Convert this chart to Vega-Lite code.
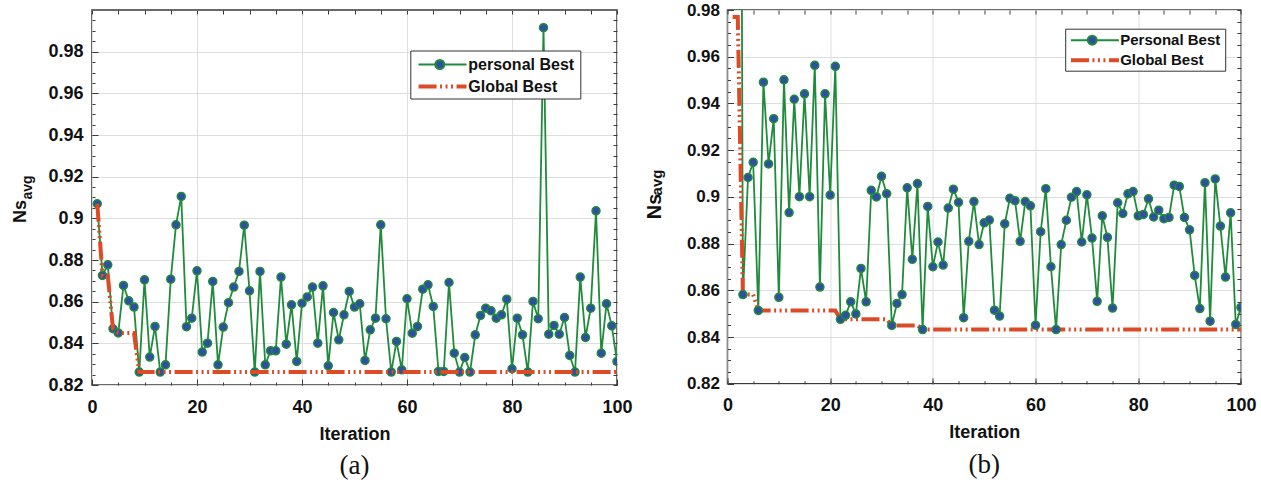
{
  "$schema": "https://vega.github.io/schema/vega-lite/v6.json",
  "background": "white",
  "padding": {"left": 10, "top": 0, "right": 5, "bottom": 2},
  "columns": 2,
  "align": "none",
  "spacing": 9.5,
  "resolve": {"scale": {"x": "independent", "y": "independent", "color": "independent", "strokeDash": "independent"}, "legend": {"color": "independent", "strokeDash": "independent"}},
  "config": {
    "view": {"stroke": "#3a3a3a", "strokeWidth": 1.5},
    "axis": {"labelFont": "Liberation Sans", "labelFontWeight": "bold", "labelColor": "#111111", "titleFont": "Liberation Sans", "titleFontWeight": "bold", "titleColor": "#111111", "tickColor": "#3a3a3a", "tickWidth": 1, "gridColor": "#dedede", "gridWidth": 1, "domain": false, "labelFontSize": 18, "titleFontSize": 18},
    "legend": {"labelFont": "Liberation Sans", "labelFontSize": 16, "labelFontWeight": "bold", "labelColor": "#111111", "titleFont": "Liberation Sans", "symbolSize": 100, "labelOffset": 36}
  },
  "datasets": {
    "a": [
      {"it":1,"pb":0.907,"gb":0.907},{"it":2,"pb":0.8726,"gb":0.8726},{"it":3,"pb":0.8777,"gb":0.8726},{"it":4,"pb":0.847,"gb":0.847},{"it":5,"pb":0.845,"gb":0.845},
      {"it":6,"pb":0.8678,"gb":0.845},{"it":7,"pb":0.8604,"gb":0.845},{"it":8,"pb":0.8574,"gb":0.845},{"it":9,"pb":0.8262,"gb":0.8262},{"it":10,"pb":0.8705,"gb":0.8262},
      {"it":11,"pb":0.8334,"gb":0.8262},{"it":12,"pb":0.8481,"gb":0.8262},{"it":13,"pb":0.8262,"gb":0.8262},{"it":14,"pb":0.8297,"gb":0.8262},{"it":15,"pb":0.8708,"gb":0.8262},
      {"it":16,"pb":0.8969,"gb":0.8262},{"it":17,"pb":0.9105,"gb":0.8262},{"it":18,"pb":0.848,"gb":0.8262},{"it":19,"pb":0.8521,"gb":0.8262},{"it":20,"pb":0.8748,"gb":0.8262},
      {"it":21,"pb":0.8358,"gb":0.8262},{"it":22,"pb":0.8401,"gb":0.8262},{"it":23,"pb":0.8697,"gb":0.8262},{"it":24,"pb":0.8297,"gb":0.8262},{"it":25,"pb":0.8478,"gb":0.8262},
      {"it":26,"pb":0.8595,"gb":0.8262},{"it":27,"pb":0.867,"gb":0.8262},{"it":28,"pb":0.8745,"gb":0.8262},{"it":29,"pb":0.8967,"gb":0.8262},{"it":30,"pb":0.8652,"gb":0.8262},
      {"it":31,"pb":0.8262,"gb":0.8262},{"it":32,"pb":0.8745,"gb":0.8262},{"it":33,"pb":0.8297,"gb":0.8262},{"it":34,"pb":0.8364,"gb":0.8262},{"it":35,"pb":0.8364,"gb":0.8262},
      {"it":36,"pb":0.8718,"gb":0.8262},{"it":37,"pb":0.8396,"gb":0.8262},{"it":38,"pb":0.8585,"gb":0.8262},{"it":39,"pb":0.8313,"gb":0.8262},{"it":40,"pb":0.8593,"gb":0.8262},
      {"it":41,"pb":0.8623,"gb":0.8262},{"it":42,"pb":0.867,"gb":0.8262},{"it":43,"pb":0.8401,"gb":0.8262},{"it":44,"pb":0.8676,"gb":0.8262},{"it":45,"pb":0.8292,"gb":0.8262},
      {"it":46,"pb":0.8548,"gb":0.8262},{"it":47,"pb":0.8417,"gb":0.8262},{"it":48,"pb":0.8537,"gb":0.8262},{"it":49,"pb":0.8649,"gb":0.8262},{"it":50,"pb":0.8574,"gb":0.8262},
      {"it":51,"pb":0.859,"gb":0.8262},{"it":52,"pb":0.8318,"gb":0.8262},{"it":53,"pb":0.8465,"gb":0.8262},{"it":54,"pb":0.8521,"gb":0.8262},{"it":55,"pb":0.8969,"gb":0.8262},
      {"it":56,"pb":0.8518,"gb":0.8262},{"it":57,"pb":0.8262,"gb":0.8262},{"it":58,"pb":0.8409,"gb":0.8262},{"it":59,"pb":0.8273,"gb":0.8262},{"it":60,"pb":0.8614,"gb":0.8262},
      {"it":61,"pb":0.8449,"gb":0.8262},{"it":62,"pb":0.8481,"gb":0.8262},{"it":63,"pb":0.866,"gb":0.8262},{"it":64,"pb":0.8681,"gb":0.8262},{"it":65,"pb":0.8577,"gb":0.8262},
      {"it":66,"pb":0.8265,"gb":0.8262},{"it":67,"pb":0.8265,"gb":0.8262},{"it":68,"pb":0.8692,"gb":0.8262},{"it":69,"pb":0.8353,"gb":0.8262},{"it":70,"pb":0.8262,"gb":0.8262},
      {"it":71,"pb":0.8332,"gb":0.8262},{"it":72,"pb":0.8262,"gb":0.8262},{"it":73,"pb":0.8441,"gb":0.8262},{"it":74,"pb":0.8534,"gb":0.8262},{"it":75,"pb":0.8569,"gb":0.8262},
      {"it":76,"pb":0.8556,"gb":0.8262},{"it":77,"pb":0.8521,"gb":0.8262},{"it":78,"pb":0.8537,"gb":0.8262},{"it":79,"pb":0.8612,"gb":0.8262},{"it":80,"pb":0.8278,"gb":0.8262},
      {"it":81,"pb":0.8521,"gb":0.8262},{"it":82,"pb":0.8441,"gb":0.8262},{"it":83,"pb":0.8262,"gb":0.8262},{"it":84,"pb":0.8601,"gb":0.8262},{"it":85,"pb":0.8518,"gb":0.8262},
      {"it":86,"pb":0.9915,"gb":0.8262},{"it":87,"pb":0.8444,"gb":0.8262},{"it":88,"pb":0.8486,"gb":0.8262},{"it":89,"pb":0.8444,"gb":0.8262},{"it":90,"pb":0.8524,"gb":0.8262},
      {"it":91,"pb":0.8342,"gb":0.8262},{"it":92,"pb":0.8262,"gb":0.8262},{"it":93,"pb":0.8718,"gb":0.8262},{"it":94,"pb":0.8428,"gb":0.8262},{"it":95,"pb":0.8569,"gb":0.8262},
      {"it":96,"pb":0.9036,"gb":0.8262},{"it":97,"pb":0.8353,"gb":0.8262},{"it":98,"pb":0.859,"gb":0.8262},{"it":99,"pb":0.8484,"gb":0.8262},{"it":100,"pb":0.8313,"gb":0.8262}
    ],
    "b": [
      {"it":1,"pb":1.5,"gb":0.977},{"it":2,"pb":1.5,"gb":0.977},{"it":3,"pb":0.8582,"gb":0.8582},{"it":4,"pb":0.9083,"gb":0.8582},{"it":5,"pb":0.9148,"gb":0.8582},
      {"it":6,"pb":0.8514,"gb":0.8514},{"it":7,"pb":0.9491,"gb":0.8514},{"it":8,"pb":0.9141,"gb":0.8514},{"it":9,"pb":0.9335,"gb":0.8514},{"it":10,"pb":0.857,"gb":0.8514},
      {"it":11,"pb":0.9501,"gb":0.8514},{"it":12,"pb":0.8933,"gb":0.8514},{"it":13,"pb":0.9418,"gb":0.8514},{"it":14,"pb":0.9001,"gb":0.8514},{"it":15,"pb":0.9441,"gb":0.8514},
      {"it":16,"pb":0.9001,"gb":0.8514},{"it":17,"pb":0.9563,"gb":0.8514},{"it":18,"pb":0.8614,"gb":0.8514},{"it":19,"pb":0.9441,"gb":0.8514},{"it":20,"pb":0.9008,"gb":0.8514},
      {"it":21,"pb":0.9559,"gb":0.8514},{"it":22,"pb":0.8476,"gb":0.8476},{"it":23,"pb":0.8493,"gb":0.8476},{"it":24,"pb":0.8551,"gb":0.8476},{"it":25,"pb":0.8499,"gb":0.8476},
      {"it":26,"pb":0.8694,"gb":0.8476},{"it":27,"pb":0.8551,"gb":0.8476},{"it":28,"pb":0.9028,"gb":0.8476},{"it":29,"pb":0.9,"gb":0.8476},{"it":30,"pb":0.9088,"gb":0.8476},
      {"it":31,"pb":0.9014,"gb":0.8476},{"it":32,"pb":0.845,"gb":0.845},{"it":33,"pb":0.8544,"gb":0.845},{"it":34,"pb":0.8582,"gb":0.845},{"it":35,"pb":0.9039,"gb":0.845},
      {"it":36,"pb":0.8733,"gb":0.845},{"it":37,"pb":0.9057,"gb":0.845},{"it":38,"pb":0.8432,"gb":0.8432},{"it":39,"pb":0.8959,"gb":0.8432},{"it":40,"pb":0.8701,"gb":0.8432},
      {"it":41,"pb":0.8807,"gb":0.8432},{"it":42,"pb":0.8708,"gb":0.8432},{"it":43,"pb":0.8952,"gb":0.8432},{"it":44,"pb":0.9033,"gb":0.8432},{"it":45,"pb":0.8977,"gb":0.8432},
      {"it":46,"pb":0.8483,"gb":0.8432},{"it":47,"pb":0.881,"gb":0.8432},{"it":48,"pb":0.898,"gb":0.8432},{"it":49,"pb":0.8796,"gb":0.8432},{"it":50,"pb":0.8889,"gb":0.8432},
      {"it":51,"pb":0.8901,"gb":0.8432},{"it":52,"pb":0.8515,"gb":0.8432},{"it":53,"pb":0.849,"gb":0.8432},{"it":54,"pb":0.8885,"gb":0.8432},{"it":55,"pb":0.8994,"gb":0.8432},
      {"it":56,"pb":0.8984,"gb":0.8432},{"it":57,"pb":0.881,"gb":0.8432},{"it":58,"pb":0.898,"gb":0.8432},{"it":59,"pb":0.8962,"gb":0.8432},{"it":60,"pb":0.8451,"gb":0.8432},
      {"it":61,"pb":0.8851,"gb":0.8432},{"it":62,"pb":0.9035,"gb":0.8432},{"it":63,"pb":0.8701,"gb":0.8432},{"it":64,"pb":0.8432,"gb":0.8432},{"it":65,"pb":0.8796,"gb":0.8432},
      {"it":66,"pb":0.89,"gb":0.8432},{"it":67,"pb":0.8999,"gb":0.8432},{"it":68,"pb":0.9023,"gb":0.8432},{"it":69,"pb":0.8807,"gb":0.8432},{"it":70,"pb":0.9009,"gb":0.8432},
      {"it":71,"pb":0.8824,"gb":0.8432},{"it":72,"pb":0.8553,"gb":0.8432},{"it":73,"pb":0.8919,"gb":0.8432},{"it":74,"pb":0.8827,"gb":0.8432},{"it":75,"pb":0.8524,"gb":0.8432},
      {"it":76,"pb":0.8975,"gb":0.8432},{"it":77,"pb":0.8929,"gb":0.8432},{"it":78,"pb":0.9013,"gb":0.8432},{"it":79,"pb":0.9023,"gb":0.8432},{"it":80,"pb":0.8919,"gb":0.8432},
      {"it":81,"pb":0.8925,"gb":0.8432},{"it":82,"pb":0.8992,"gb":0.8432},{"it":83,"pb":0.8914,"gb":0.8432},{"it":84,"pb":0.8943,"gb":0.8432},{"it":85,"pb":0.8907,"gb":0.8432},
      {"it":86,"pb":0.8912,"gb":0.8432},{"it":87,"pb":0.905,"gb":0.8432},{"it":88,"pb":0.9045,"gb":0.8432},{"it":89,"pb":0.8912,"gb":0.8432},{"it":90,"pb":0.8859,"gb":0.8432},
      {"it":91,"pb":0.8664,"gb":0.8432},{"it":92,"pb":0.8522,"gb":0.8432},{"it":93,"pb":0.9061,"gb":0.8432},{"it":94,"pb":0.8468,"gb":0.8432},{"it":95,"pb":0.9077,"gb":0.8432},
      {"it":96,"pb":0.8875,"gb":0.8432},{"it":97,"pb":0.8657,"gb":0.8432},{"it":98,"pb":0.8932,"gb":0.8432},{"it":99,"pb":0.8454,"gb":0.8432},{"it":100,"pb":0.8527,"gb":0.8432}
    ]
  },
  "concat": [
    {
      "width": 525,
      "height": 375,
      "data": {"name": "a"},
      "title": {"text": "(a)", "orient": "bottom", "frame": "group", "anchor": "middle", "font": "Liberation Serif", "fontSize": 27, "fontWeight": "normal", "color": "#111111", "offset": 10},
      "resolve": {"axis": {"x": "independent", "y": "independent"}},
      "layer": [
        {
          "mark": {"type": "line", "strokeWidth": 1.8, "clip": true},
          "encoding": {
            "x": {"field": "it", "type": "quantitative", "scale": {"domain": [0, 100], "nice": false, "zero": false},
                  "axis": {"orient": "bottom", "values": [0, 20, 40, 60, 80, 100], "tickSize": -6, "labelPadding": 19, "labelFlush": false, "grid": true, "title": "Iteration", "titlePadding": 9}},
            "y": {"field": "pb", "type": "quantitative", "scale": {"domain": [0.82, 1.0], "nice": false, "zero": false},
                  "axis": {"orient": "left", "values": [0.82, 0.84, 0.86, 0.88, 0.9, 0.92, 0.94, 0.96, 0.98], "format": "~g", "tickSize": -6, "labelPadding": 15, "grid": true,
                           "title": "Ns", "titleAngle": 270, "titleBaseline": "alphabetic", "titleAlign": "center", "titleX": -66.7, "titleY": 201, "titleFontSize": 18}},
            "color": {"datum": "personal Best",
                      "scale": {"domain": ["personal Best"], "range": ["#1f8b3b"]},
                      "legend": {"orient": "none", "legendX": 318.3, "legendY": 40.5, "title": " ", "titleOrient": "bottom", "titleFontSize": 14, "titlePadding": 5,
                                 "strokeColor": "#333333", "fillColor": "white", "padding": 6,
                                 "symbolType": "M-1.15,0L2.2,0M4,0L8.45,0M2.2,0A0.9,0.9,0,1,1,4,0A0.9,0.9,0,1,1,2.2,0Z",
                                 "symbolFillColor": "#2f4fa3", "symbolStrokeColor": "#1f8b3b", "symbolStrokeWidth": 2, "symbolOpacity": 1}}
          }
        },
        {
          "mark": {"type": "circle", "size": 64, "fill": "#2f4fa3", "stroke": "#1f8b3b", "strokeWidth": 1.5, "opacity": 1, "clip": true},
          "encoding": {
            "x": {"field": "it", "type": "quantitative",
                  "axis": {"orient": "bottom", "values": [0,5,10,15,20,25,30,35,40,45,50,55,60,65,70,75,80,85,90,95,100], "tickSize": -3, "labels": false, "grid": false, "title": null}},
            "y": {"field": "pb", "type": "quantitative",
                  "axis": {"orient": "left", "values": [0.82,0.825,0.83,0.835,0.84,0.845,0.85,0.855,0.86,0.865,0.87,0.875,0.88,0.885,0.89,0.895,0.9,0.905,0.91,0.915,0.92,0.925,0.93,0.935,0.94,0.945,0.95,0.955,0.96,0.965,0.97,0.975,0.98,0.985,0.99,0.995],
                           "tickSize": -3, "labels": false, "grid": false,
                           "title": "avg", "titleAngle": 270, "titleBaseline": "alphabetic", "titleAlign": "center", "titleX": -60.7, "titleY": 177, "titleFontSize": 14}}
          }
        },
        {
          "mark": {"type": "line", "color": "#dc4a26", "strokeWidth": 4, "strokeCap": "butt", "clip": true},
          "encoding": {
            "x": {"field": "it", "type": "quantitative",
                  "axis": {"orient": "top", "values": [0,5,10,15,20,25,30,35,40,45,50,55,60,65,70,75,80,85,90,95,100],
                           "tickSize": -4, "labels": false, "grid": false, "title": null}},
            "y": {"field": "gb", "type": "quantitative",
                  "axis": {"orient": "right", "values": [0.82,0.825,0.83,0.835,0.84,0.845,0.85,0.855,0.86,0.865,0.87,0.875,0.88,0.885,0.89,0.895,0.9,0.905,0.91,0.915,0.92,0.925,0.93,0.935,0.94,0.945,0.95,0.955,0.96,0.965,0.97,0.975,0.98,0.985,0.99,0.995],
                           "tickSize": -4, "labels": false, "grid": false, "title": null}},
            "strokeDash": {"datum": "Global Best",
                           "scale": {"domain": ["Global Best"], "range": [[18, 3.5, 2, 3.5, 2, 3.5, 2, 3.5]]},
                           "legend": {"orient": "none", "legendX": 318.3, "legendY": 62.5, "title": null, "padding": 6,
                                      "symbolType": "M-1.15,0L8.45,0", "symbolStrokeColor": "#dc4a26", "symbolStrokeWidth": 4, "symbolOpacity": 1}}
          }
        }
      ]
    },
    {
      "width": 513.4,
      "height": 373.8,
      "data": {"name": "b"},
      "title": {"text": "(b)", "orient": "bottom", "frame": "group", "anchor": "middle", "font": "Liberation Serif", "fontSize": 27, "fontWeight": "normal", "color": "#111111", "offset": 10},
      "resolve": {"axis": {"x": "independent", "y": "independent"}},
      "layer": [
        {
          "mark": {"type": "line", "strokeWidth": 1.8, "clip": true},
          "encoding": {
            "x": {"field": "it", "type": "quantitative", "scale": {"domain": [0, 100], "nice": false, "zero": false},
                  "axis": {"orient": "bottom", "values": [0, 20, 40, 60, 80, 100], "tickSize": -6, "labelPadding": 19, "labelFlush": false, "grid": true, "title": "Iteration", "titlePadding": 9}},
            "y": {"field": "pb", "type": "quantitative", "scale": {"domain": [0.82, 0.98], "nice": false, "zero": false},
                  "axis": {"orient": "left", "values": [0.82, 0.84, 0.86, 0.88, 0.9, 0.92, 0.94, 0.96, 0.98], "format": "~g", "tickSize": -6, "labelPadding": 14, "labelFontSize": 17, "grid": true,
                           "title": "Ns", "titleAngle": 270, "titleBaseline": "alphabetic", "titleAlign": "center", "titleX": -67.3, "titleY": 196, "titleFontSize": 20}},
            "color": {"datum": "Personal Best",
                      "scale": {"domain": ["Personal Best"], "range": ["#1f8b3b"]},
                      "legend": {"orient": "none", "legendX": 337.7, "legendY": 18.7, "title": " ", "titleOrient": "bottom", "titleFontSize": 14, "titlePadding": 4,
                                 "strokeColor": "#333333", "fillColor": "white", "padding": 4, "labelFontSize": 15,
                                 "symbolType": "M-1.15,0L2.2,0M4,0L8.45,0M2.2,0A0.9,0.9,0,1,1,4,0A0.9,0.9,0,1,1,2.2,0Z",
                                 "symbolFillColor": "#2f4fa3", "symbolStrokeColor": "#1f8b3b", "symbolStrokeWidth": 2, "symbolOpacity": 1}}
          }
        },
        {
          "mark": {"type": "line", "color": "#dc4a26", "strokeWidth": 4, "strokeCap": "butt", "clip": true},
          "encoding": {
            "x": {"field": "it", "type": "quantitative",
                  "axis": {"orient": "top", "values": [0,5,10,15,20,25,30,35,40,45,50,55,60,65,70,75,80,85,90,95,100],
                           "tickSize": -4, "labels": false, "grid": false, "title": null}},
            "y": {"field": "gb", "type": "quantitative",
                  "axis": {"orient": "right", "values": [0.82,0.825,0.83,0.835,0.84,0.845,0.85,0.855,0.86,0.865,0.87,0.875,0.88,0.885,0.89,0.895,0.9,0.905,0.91,0.915,0.92,0.925,0.93,0.935,0.94,0.945,0.95,0.955,0.96,0.965,0.97,0.975,0.98],
                           "tickSize": -4, "labels": false, "grid": false, "title": null}},
            "strokeDash": {"datum": "Global Best",
                           "scale": {"domain": ["Global Best"], "range": [[18, 3.5, 2, 3.5, 2, 3.5, 2, 3.5]]},
                           "legend": {"orient": "none", "legendX": 337.7, "legendY": 38.7, "title": null, "padding": 4, "labelFontSize": 15,
                                      "symbolType": "M-1.15,0L8.45,0", "symbolStrokeColor": "#dc4a26", "symbolStrokeWidth": 4, "symbolOpacity": 1}}
          }
        },
        {
          "mark": {"type": "circle", "size": 64, "fill": "#2f4fa3", "stroke": "#1f8b3b", "strokeWidth": 1.5, "opacity": 1, "clip": true},
          "encoding": {
            "x": {"field": "it", "type": "quantitative",
                  "axis": {"orient": "bottom", "values": [0,5,10,15,20,25,30,35,40,45,50,55,60,65,70,75,80,85,90,95,100], "tickSize": -3, "labels": false, "grid": false, "title": null}},
            "y": {"field": "pb", "type": "quantitative",
                  "axis": {"orient": "left", "values": [0.82,0.825,0.83,0.835,0.84,0.845,0.85,0.855,0.86,0.865,0.87,0.875,0.88,0.885,0.89,0.895,0.9,0.905,0.91,0.915,0.92,0.925,0.93,0.935,0.94,0.945,0.95,0.955,0.96,0.965,0.97,0.975,0.98],
                           "tickSize": -3, "labels": false, "grid": false,
                           "title": "avg", "titleAngle": 270, "titleBaseline": "alphabetic", "titleAlign": "center", "titleX": -65.6, "titleY": 172, "titleFontSize": 15}}
          }
        }
      ]
    }
  ]
}
